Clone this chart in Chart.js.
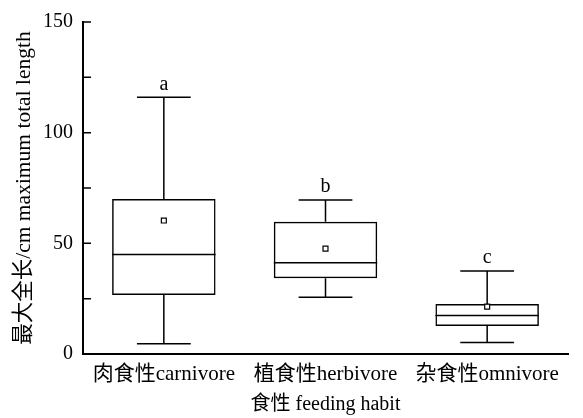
<!DOCTYPE html>
<html>
<head>
<meta charset="utf-8">
<script src="https://cdn.jsdelivr.net/npm/chart.js@4"></script>
<style>
  body { margin: 0; background: #fff; }
  canvas { display: block; }
</style>
</head>
<body>
<canvas id="boxChart" width="583" height="418"></canvas>
<script>
// data
const categories = ['肉食性carnivore', '植食性herbivore', '杂食性omnivore'];
const mins = [4.6, 25.6, 5.2];
const q1s = [26.7, 34.2, 12.6];
const medians = [45, 41.2, 17.4];
const q3s = [70, 59.7, 22.6];
const maxs = [116, 69.6, 37.5];
const means = [60.3, 47.6, 21.4];
const letters = ['a', 'b', 'c'];
const yLabelled = [0, 50, 100, 150];

const fontFamily = "'Liberation Serif', 'Noto Sans CJK SC', serif";

// whiskers, caps, medians, letters and inside tick marks
const boxParts = {
  id: 'boxParts',
  afterDatasetsDraw(chart) {
    const ctx = chart.ctx;
    const xs = chart.scales.x;
    const ys = chart.scales.y;
    const bars = chart.getDatasetMeta(0).data;
    ctx.save();
    ctx.strokeStyle = '#000';
    ctx.lineWidth = 1.5;
    categories.forEach((c, i) => {
      const x = xs.getPixelForValue(i);
      const w = bars[i].width;
      const cap = w * 0.26;
      const yMax = ys.getPixelForValue(maxs[i]);
      const yMin = ys.getPixelForValue(mins[i]);
      ctx.beginPath();
      ctx.moveTo(x, yMax); ctx.lineTo(x, ys.getPixelForValue(q3s[i]));
      ctx.moveTo(x, yMin); ctx.lineTo(x, ys.getPixelForValue(q1s[i]));
      ctx.moveTo(x - cap, yMax); ctx.lineTo(x + cap, yMax);
      ctx.moveTo(x - cap, yMin); ctx.lineTo(x + cap, yMin);
      const yMed = ys.getPixelForValue(medians[i]);
      ctx.moveTo(x - w / 2, yMed); ctx.lineTo(x + w / 2, yMed);
      ctx.stroke();

      ctx.fillStyle = '#000';
      ctx.font = '20px ' + fontFamily;
      ctx.textAlign = 'center';
      ctx.textBaseline = 'middle';
      ctx.fillText(letters[i], x, yMax - 13);
    });

    // tick marks point into the plot
    ctx.lineWidth = 1.5;
    ctx.beginPath();
    for (let v = 0; v <= 150; v += 25) {
      const y = ys.getPixelForValue(v);
      ctx.moveTo(chart.chartArea.left, y);
      ctx.lineTo(chart.chartArea.left + 8, y);
    }
    ctx.stroke();
    ctx.restore();
  }
};

const ctx = document.getElementById('boxChart').getContext('2d');
const chart = new Chart(ctx, {
  type: 'bar',
  data: {
    labels: categories,
    datasets: [{
      label: 'box',
      data: q1s.map((q, i) => [q, q3s[i]]),
      backgroundColor: 'rgba(255,255,255,0)',
      borderColor: '#000',
      borderWidth: 1.5,
      borderSkipped: false,
      barPercentage: 0.64,
      categoryPercentage: 1,
      order: 1
    }, {
      type: 'line',
      label: 'mean',
      data: means,
      showLine: false,
      pointStyle: 'rect',
      pointRadius: 3.5,
      pointBackgroundColor: '#fff',
      pointBorderColor: '#000',
      pointBorderWidth: 1.2,
      order: 0
    }]
  },
  options: {
    responsive: false,
    animation: false,
    layout: { padding: { top: 18, right: 15, left: 0, bottom: 0 } },
    plugins: {
      legend: { display: false },
      tooltip: { enabled: false }
    },
    scales: {
      x: {
        grid: { display: false, drawTicks: false, tickLength: 0 },
        border: { display: true, color: '#000', width: 2 },
        ticks: {
          color: '#000',
          padding: 8,
          maxRotation: 0,
          font: { family: fontFamily, size: 21 }
        },
        title: {
          display: true,
          text: '食性 feeding habit',
          color: '#000',
          padding: { top: 0, bottom: 1 },
          font: { family: fontFamily, size: 20, lineHeight: 1.2 }
        },
        afterFit(scale) { scale.height = 64; }
      },
      y: {
        min: 0,
        max: 150,
        grid: { display: false, drawTicks: false, tickLength: 0 },
        border: { display: true, color: '#000', width: 2 },
        ticks: {
          stepSize: 25,
          color: '#000',
          padding: 10,
          font: { family: fontFamily, size: 20 },
          callback: v => yLabelled.includes(v) ? v : ''
        },
        title: {
          display: true,
          text: '最大全长/cm maximum total length',
          color: '#000',
          padding: { top: 11, bottom: 0 },
          font: { family: fontFamily, size: 21.5, lineHeight: 1.2 }
        },
        afterFit(scale) { scale.width = 83; }
      }
    }
  },
  plugins: [boxParts]
});
</script>
</body>
</html>
